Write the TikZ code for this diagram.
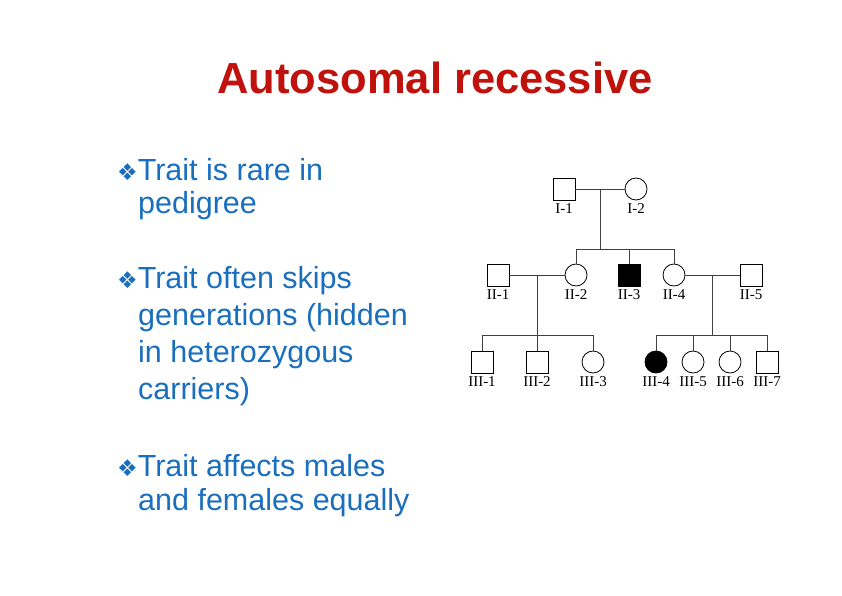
\documentclass[tikz,border=0pt]{standalone}
\usepackage{fontspec}
\setmainfont{Liberation Sans}
\newfontfamily\symfont{DejaVu Sans}
\newfontfamily\labfont{Liberation Serif}
\definecolor{titred}{HTML}{C0120C}
\definecolor{txtblue}{HTML}{1A6EBE}
\newcommand{\bul}{{\symfont\fontsize{23}{23}\selectfont ❖}}
\begin{document}
\begin{tikzpicture}[x=1pt,y=-1pt,
  male/.style={draw,thick,minimum size=22pt,inner sep=0pt},
  female/.style={draw,thick,circle,minimum size=22pt,inner sep=0pt},
  aff/.style={fill=black},
  lab/.style={font=\labfont\fontsize{15}{15}\selectfont,anchor=north,inner sep=0pt},
  ln/.style={draw,line width=0.8pt,black!75},
  body/.style={anchor=west,text=txtblue,font=\fontsize{30.5}{30.5}\selectfont,inner sep=0pt}]
\useasboundingbox (0,0) rectangle (842,595);
\node[text=titred,font=\bfseries\fontsize{43.5}{43.5}\selectfont] (title) at (435,78) {Autosomal recessive};
\node[body] (b1) at (117,170) {\bul Trait is rare in};
\node[body] (b1b) at (138,206) {pedigree};
\node[body] (b2) at (117,281) {\bul Trait often skips};
\node[body] (b2b) at (138,318) {generations (hidden};
\node[body] (b2c) at (138,355) {in heterozygous};
\node[body] (b2d) at (138,392) {carriers)};
\node[body] (b3) at (117,466) {\bul Trait affects males};
\node[body] (b3b) at (138,503) {and females equally};
% generation I
\node[male] (i1) at (564,189) {};
\node[female] (i2) at (636,189) {};
% generation II
\node[male] (ii1) at (498,275) {};
\node[female] (ii2) at (576,275) {};
\node[male,aff] (ii3) at (629,275) {};
\node[female] (ii4) at (674,275) {};
\node[male] (ii5) at (751,275) {};
% generation III
\node[male] (iii1) at (482,362) {};
\node[male] (iii2) at (537,362) {};
\node[female] (iii3) at (593,362) {};
\node[female,aff] (iii4) at (656,362) {};
\node[female] (iii5) at (693,362) {};
\node[female] (iii6) at (730,362) {};
\node[male] (iii7) at (767,362) {};
% labels
\foreach \n/\t in {i1/I-1,i2/I-2,ii1/II-1,ii2/II-2,ii3/II-3,ii4/II-4,ii5/II-5,iii1/III-1,iii2/III-2,iii3/III-3,iii4/III-4,iii5/III-5,iii6/III-6,iii7/III-7}
  \node[lab] (l\n) at ([yshift=-3pt]\n.south) {\t};
% connectors
\coordinate (m1) at (600,189);
\coordinate (s1) at (600,249);
\draw[ln] (i1) -- (i2);
\draw[ln] (m1) -- (s1);
\draw[ln] (ii2.north) -- (ii2.north |- s1) -- (ii4.north |- s1) -- (ii4.north);
\draw[ln] (ii3.north) -- (ii3.north |- s1);
\coordinate (m2) at (537,275);
\coordinate (s2) at (537,335);
\draw[ln] (ii1) -- (ii2);
\draw[ln] (m2) -- (s2);
\draw[ln] (iii1.north) -- (iii1.north |- s2) -- (iii3.north |- s2) -- (iii3.north);
\draw[ln] (iii2.north) -- (iii2.north |- s2);
\coordinate (m3) at (712,275);
\coordinate (s3) at (712,335);
\draw[ln] (ii4) -- (ii5);
\draw[ln] (m3) -- (s3);
\draw[ln] (iii4.north) -- (iii4.north |- s3) -- (iii7.north |- s3) -- (iii7.north);
\draw[ln] (iii5.north) -- (iii5.north |- s3);
\draw[ln] (iii6.north) -- (iii6.north |- s3);
\end{tikzpicture}
\end{document}
